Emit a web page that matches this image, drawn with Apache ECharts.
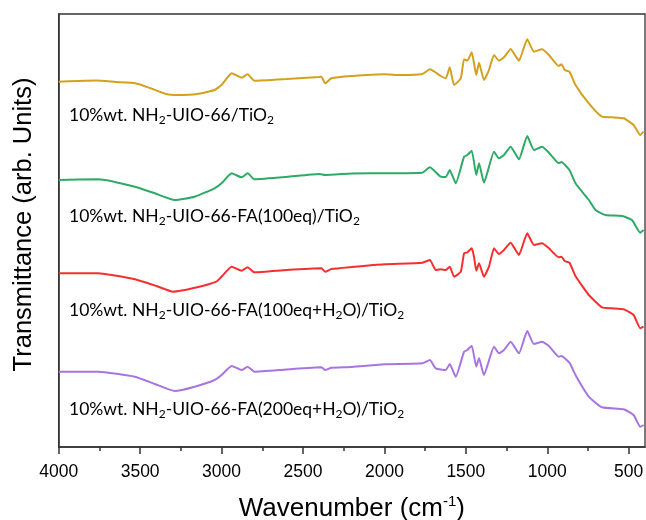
<!DOCTYPE html>
<html>
<head>
<meta charset="utf-8">
<script src="https://cdn.jsdelivr.net/npm/echarts@6/dist/echarts.min.js"></script>
<style>html,body{margin:0;padding:0;background:#fff}#chart{width:646px;height:520px}</style>
</head>
<body>
<div id="chart"></div>
<script>
// Tick values (cm-1)
const xMajorTicks = [500, 1000, 1500, 2000, 2500, 3000, 3500, 4000];
const xMinorTicks = [750, 1250, 1750, 2250, 2750, 3250, 3750];

// Series names (rich text markup for subscripts)
const seriesNames = [
  '10%wt. NH2-UIO-66/TiO2',
  '10%wt. NH2-UIO-66-FA(100eq)/TiO2',
  '10%wt. NH2-UIO-66-FA(100eq+H2O)/TiO2',
  '10%wt. NH2-UIO-66-FA(200eq+H2O)/TiO2'
];
const seriesLabels = [
  '{n|10%wt. NH}{s|2}{n|-UIO-66/TiO}{s|2}',
  '{n|10%wt. NH}{s|2}{n|-UIO-66-FA(100eq)/TiO}{s|2}',
  '{n|10%wt. NH}{s|2}{n|-UIO-66-FA(100eq+H}{s|2}{n|O)/TiO}{s|2}',
  '{n|10%wt. NH}{s|2}{n|-UIO-66-FA(200eq+H}{s|2}{n|O)/TiO}{s|2}'
];
const seriesColors = ['#D4A01E', '#2EAA66', '#F52F2F', '#A774E0'];

// [wavenumber, transmittance (arb., stacked)]
const spectrumUio = [
  [4000,365.3],[3880,366],[3770,366.5],[3650,365],[3530,363.7],[3440,359],[3340,353],[3270,352],
  [3150,353],[3043,357],[3000,362],[2938,373.7],[2900,371],[2877,369.3],[2840,372.7],[2798,366.3],
  [2600,368],[2400,370],[2387,370.3],[2363,363.7],[2326,368.7],[2200,371],[2001,372.7],[1900,372],
  [1767,373],[1721,377.7],[1654,371],[1623,368.7],[1599,379.7],[1572,362],[1531,368.7],[1511,387.7],
  [1491,386.3],[1464,394.7],[1450,383.7],[1436,372],[1419,384.3],[1389,367],[1358,377],[1327,392],
  [1297,386.3],[1266,389.7],[1225,398],[1195,391],[1174,386.3],[1123,407.7],[1082,395.3],[1032,397.7],
  [990,392],[929,381],[913,382.7],[893,377],[864,375.3],[827,362],[745,343.7],[664,330.3],
  [603,329.7],[531,328.7],[470,322],[429,312],[409,315.3]
];
const spectrumFa100 = [
  [4000,267],[3757,267.7],[3532,260.3],[3410,253.7],[3287,247],[3165,250.3],[3043,258.7],[3000,263.7],
  [2938,273.7],[2877,269.7],[2840,273.7],[2798,267.7],[2600,270],[2400,273],[2363,272],[2200,273.5],
  [2032,273.7],[1767,274.3],[1721,279.7],[1654,270.3],[1623,270],[1599,277],[1562,263.7],[1511,290.3],
  [1491,292],[1464,296.3],[1436,272],[1419,283.7],[1389,264.3],[1327,295.3],[1297,288.7],[1266,292],
  [1225,300.3],[1174,287.7],[1123,311],[1082,297],[1032,300.3],[990,294.3],[929,283.7],[913,285],
  [864,277],[827,263.7],[745,247],[704,237],[643,232],[541,231],[480,227],[429,214.3],[409,217]
];
const spectrumFa100W = [
  [4000,173.7],[3757,173.7],[3532,167.7],[3400,161],[3298,155.3],[3150,159.7],[3032,165.3],[3000,170.3],
  [2938,180.3],[2877,176.3],[2840,179.7],[2798,174.7],[2600,177],[2387,178.7],[2363,175.3],[2326,178],
  [2200,180],[2001,182.7],[1767,184.3],[1721,187],[1685,177],[1654,177.7],[1623,177],[1599,180.3],
  [1572,170.3],[1531,175.3],[1511,193.7],[1491,194.7],[1464,198.7],[1450,190.3],[1436,176.3],[1419,183.7],
  [1389,170.3],[1358,180.3],[1327,198.7],[1297,193],[1266,197],[1225,204.3],[1195,197],[1174,192],
  [1123,213.7],[1082,202],[1032,203.7],[990,198.7],[929,189.7],[913,190.3],[893,186],[864,184.3],
  [827,171],[745,152],[664,139.7],[603,138.7],[531,137.7],[470,132],[429,118.7],[409,120.3]
];
const spectrumFa200W = [
  [4000,75.3],[3757,75.3],[3532,70.3],[3410,63],[3287,56],[3165,60.3],[3043,67],[3000,72],
  [2938,81],[2877,77],[2840,80.3],[2798,75.3],[2600,77.5],[2387,79.7],[2363,77],[2326,79.3],
  [2200,80],[2001,82.7],[1767,83.7],[1721,87],[1685,78.7],[1623,77],[1599,83],[1562,70.3],
  [1511,95.3],[1491,97],[1464,101.3],[1436,80.3],[1419,88.7],[1389,72],[1327,100.3],[1297,93.7],
  [1266,97],[1225,105.3],[1174,93.7],[1123,116],[1082,103],[1032,105.3],[990,101],[929,90.3],
  [913,91],[864,84.3],[827,72],[745,50.3],[664,39.7],[531,37.7],[470,32],[429,20.3],[409,22]
];
const spectra = [spectrumUio, spectrumFa100, spectrumFa100W, spectrumFa200W];

const labelY = [115, 216, 310, 409];

const chart = echarts.init(document.getElementById('chart'), null, {renderer: 'canvas'});
const axisFont = 'Liberation Sans, Arial, sans-serif';

const option = {
  animation: false,
  backgroundColor: '#fff',
  grid: {left: 58.7, right: 1, top: 14, bottom: 73, outerBoundsMode: 'none', containLabel: false,
         show: true, borderColor: '#333', borderWidth: 1.3},
  xAxis: [{
    type: 'value', min: 400, max: 4000, inverse: true,
    name: '{t|Wavenumber (cm}{sup|-1}{t|)}',
    nameLocation: 'middle', nameGap: 47,
    nameTextStyle: {rich: {
      t: {fontFamily: axisFont, fontSize: 26, color: '#000', lineHeight: 30},
      sup: {fontFamily: axisFont, fontSize: 15, color: '#000', verticalAlign: 'top', lineHeight: 30, padding: [0,0,10,0]}
    }},
    axisLine: {show: true, lineStyle: {color: '#333', width: 1.5}},
    axisTick: {show: true, inside: false, length: 7, customValues: xMajorTicks, lineStyle: {color: '#333', width: 1.5}},
    axisLabel: {show: true, customValues: xMajorTicks, margin: 16, fontFamily: axisFont, fontSize: 17.5, color: '#000',
                formatter: v => String(v)},
    splitLine: {show: false}
  }, {
    type: 'value', min: 400, max: 4000, inverse: true, position: 'bottom',
    axisLine: {show: false},
    axisTick: {show: true, length: 4, customValues: xMinorTicks, lineStyle: {color: '#333', width: 1.5}},
    axisLabel: {show: false},
    splitLine: {show: false}
  }],
  yAxis: {
    type: 'value', min: 0, max: 433,
    name: 'Transmittance (arb. Units)',
    nameLocation: 'middle', nameGap: 22, nameRotate: 90,
    nameTextStyle: {fontFamily: axisFont, fontSize: 25.5, color: '#000', padding: [0, 0, 0, 12]},
    axisLine: {show: true, lineStyle: {color: '#333', width: 1.5}},
    axisTick: {show: false}, axisLabel: {show: false}, splitLine: {show: false}
  },
  series: spectra.map((d, i) => ({
    name: seriesNames[i], type: 'line', data: d, xAxisIndex: 0,
    showSymbol: false, smooth: 0.15,
    lineStyle: {color: seriesColors[i], width: 2},
    itemStyle: {color: seriesColors[i]}
  })),
  graphic: seriesLabels.map((t, i) => ({
    type: 'text', x: 69, y: labelY[i],
    style: {
      text: t, verticalAlign: 'middle', align: 'left',
      rich: {
        n: {fontFamily: 'Lato, sans-serif', fontSize: 17.5, color: seriesColors[i], lineHeight: 22},
        s: {fontFamily: 'Lato, sans-serif', fontSize: 12, color: seriesColors[i], lineHeight: 12, verticalAlign: 'bottom'}
      }
    }
  }))
};
chart.setOption(option);
</script>
</body>
</html>
